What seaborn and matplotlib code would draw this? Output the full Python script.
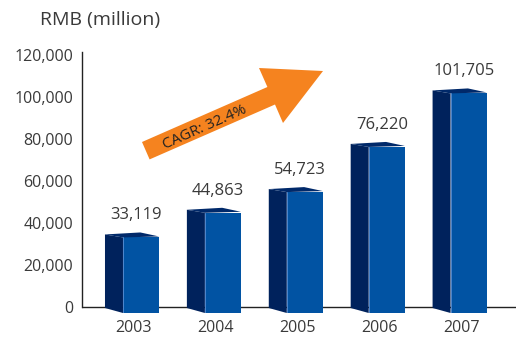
import matplotlib
matplotlib.use("Agg")
import matplotlib.pyplot as plt
import seaborn as sns
import pandas as pd
from matplotlib.patches import Polygon

# ---- data ----
years = ["2003", "2004", "2005", "2006", "2007"]
revenue = [33119, 44863, 54723, 76220, 101705]
yticks = [0, 20000, 40000, 60000, 80000, 100000, 120000]
title = "RMB (million)"
cagr_label = "CAGR: 32.4%"

# ---- style ----
FRONT = "#0153a3"
SIDE = "#00225c"
TOP = "#00296a"
EDGE = "#5d8fd3"
TXT = "#3a3a3a"
ORANGE = "#f5831f"

sns.set_theme(style="white")
plt.rcParams["font.family"] = ["Open Sans", "DejaVu Sans"]

W, H = 516, 342
fig = plt.figure(figsize=(W / 100, H / 100), dpi=100)
ax = fig.add_axes([82 / W, 29 / H, (W - 82) / W, 261 / H])

upp = 120000 / 252.0      # data units per pixel (y)
xpp = 1 / 81.9            # category units per pixel (x)

df = pd.DataFrame({"year": years, "revenue": revenue})
sns.barplot(data=df, x="year", y="revenue", color=FRONT, saturation=1,
            width=0.44, errorbar=None, ax=ax, zorder=3, linewidth=0)

ax.set_xlim(-59 * xpp, 375 * xpp)
ax.set_ylim(-6 * upp, 120000 + 3 * upp)

sw = 18 * xpp  # side depth
for p in list(ax.patches):
    xf = p.get_x()
    wf = p.get_width()
    v = p.get_height()
    p.set_y(-6 * upp)
    p.set_height(v + 6 * upp)
    side = Polygon([(xf - sw, v + 3 * upp), (xf, v), (xf, -6 * upp), (xf - sw, -1 * upp)],
                   closed=True, facecolor=SIDE, edgecolor="none", zorder=2)
    ax.add_patch(side)
    top = Polygon([(xf, v), (xf - sw, v + 3 * upp), (xf + wf * 0.48, v + 5 * upp), (xf + wf, v + 1 * upp)],
                  closed=True, facecolor=TOP, edgecolor="none", zorder=4)
    ax.add_patch(top)
    ax.plot([xf, xf], [-6 * upp, v], color=EDGE, lw=0.6, zorder=5)

for i, v in enumerate(revenue):
    ax.text(i - 0.06, v + 22 * upp, f"{v:,}", ha="center", va="center",
            fontsize=12, color=TXT)

ax.axhline(0, color="#222222", lw=1.0, zorder=1)
for s in ["top", "right", "bottom"]:
    ax.spines[s].set_visible(False)
ax.spines["left"].set_color("#222222")
ax.spines["left"].set_linewidth(1.0)
ax.spines["left"].set_bounds(0, 120000 + 3 * upp)

ax.set_yticks(yticks)
ax.set_yticklabels([f"{t:,}" for t in yticks])
ax.set_xticks([i - 0.09 for i in range(len(years))])
ax.set_xticklabels(years)
ax.tick_params(axis="y", length=0, pad=6.5, labelsize=11.5, labelcolor=TXT)
ax.tick_params(axis="x", length=0, pad=5, labelsize=11.5, labelcolor=TXT)
ax.set_xlabel("")
ax.set_ylabel("")
ax.grid(False)

fig.text(40 / W, 1 - 20 / H, title, ha="left", va="center", fontsize=14, color=TXT)

# CAGR arrow (annotation)
pts = [(142, 142), (267.4, 87), (259, 68), (323, 71), (283, 123), (275, 104.5), (149.6, 159.4)]
arrow = Polygon([(x / W, 1 - y / H) for x, y in pts], closed=True,
                transform=fig.transFigure, facecolor=ORANGE, edgecolor="none")
fig.add_artist(arrow)
fig.text(205 / W, 1 - 127 / H, cagr_label, rotation=24, rotation_mode="anchor",
         ha="center", va="center", fontsize=11, color="#222222")

fig.savefig("out.png", dpi=100)
